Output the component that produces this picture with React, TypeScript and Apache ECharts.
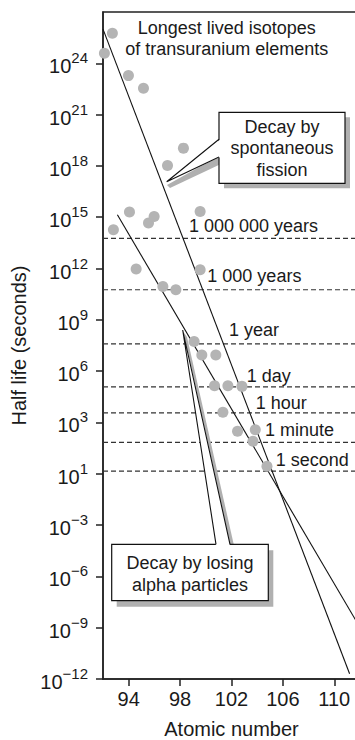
import React, { useEffect, useRef } from "react";
import * as echarts from "echarts";

// ---- data (atomic number, log10 of half-life in seconds) ----
const atomicNumber = [92.73, 92.11, 93.98, 95.15, 98.26, 97.02, 94.06, 92.81, 95.54, 95.98, 99.56, 94.58, 99.56, 96.66, 97.67, 99.09, 99.69, 100.78, 100.68, 101.72, 102.81, 101.33, 102.47, 103.85, 103.67, 104.76];
const logHalfLife = [25.76, 24.59, 23.28, 22.54, 19.04, 18.02, 15.3, 14.27, 14.66, 15.04, 15.34, 11.97, 11.93, 10.95, 10.76, 7.74, 6.95, 6.95, 5.15, 5.15, 5.11, 3.6, 2.48, 2.58, 1.9, 0.44];

const fissionLineZ = [92, 111.19];
const fissionLineLog = [26, -11.69];
const alphaLineZ = [93.12, 112];
const alphaLineLog = [15.14, -8.99];

const timescaleNames = ["1 000 000 years", "1 000 years", "1 year", "1 day", "1 hour", "1 minute", "1 second"];
const timescaleLog = [13.76, 10.76, 7.59, 5.08, 3.56, 1.84, 0.15];
const timescaleLabelZ = [98.65, 100.08, 101.77, 103.14, 103.85, 104.57, 105.4];
const timescaleLabelLog = [14.46, 11.54, 8.43, 5.74, 4.14, 2.54, 0.83];

const xTickValues = [94, 98, 102, 106, 110];
const yTickValues = [-12, -9, -6, -3, 0, 3, 6, 9, 12, 15, 18, 21, 24];
const yTickExponents = ["\u221212", "\u22129", "\u22126", "\u22123", "1", "3", "6", "9", "12", "15", "18", "21", "24"];

const FONT = '"Liberation Sans", Arial, Helvetica, sans-serif';
const INK = "#1a1a1a";
const SHADOW = "#b0b0b0";

function txt(text: string, x: number, y: number, size = 18) {
  return {
    type: "text",
    z: 10,
    style: {
      text, x, y,
      fill: INK,
      font: `${size}px ${FONT}`,
      textAlign: "center", align: "center",
      textVerticalAlign: "middle", verticalAlign: "middle",
    },
  };
}

export default function App() {
  const ref = useRef<HTMLDivElement>(null);
  useEffect(() => {
    if (!ref.current) return;
    const chart = echarts.init(ref.current, null, { renderer: "svg" });
    const axisLineStyle = { color: "#222", width: 1.5 };
    const points = atomicNumber.map((z, i) => [z, logHalfLife[i]]);
    const dashedSeries = timescaleLog.map((v) => ({
      type: "line",
      data: [[92, v], [112, v]],
      symbol: "none",
      silent: true,
      z: 1,
      lineStyle: { color: "#333", width: 1.2, type: [5, 3] },
    }));
    const option: any = {
      animation: false,
      grid: {
        left: 103, top: 12, right: -5, bottom: 61,
        containLabel: false, outerBoundsMode: "none",
        show: true, borderColor: "#222", borderWidth: 1.5, backgroundColor: "transparent",
      },
      xAxis: {
        type: "value", min: 92, max: 112,
        name: "Atomic number", nameLocation: "middle", nameGap: 40,
        nameTextStyle: { fontSize: 20, lineHeight: 20, color: INK, fontFamily: FONT },
        axisLine: { show: true, onZero: false, lineStyle: axisLineStyle },
        axisTick: { show: true, customValues: xTickValues, length: 7, lineStyle: axisLineStyle },
        axisLabel: { customValues: xTickValues, fontSize: 20, margin: 10, color: INK, fontFamily: FONT },
        splitLine: { show: false },
      },
      yAxis: {
        type: "value", min: -12, max: 27,
        name: "Half life (seconds)", nameLocation: "middle", nameGap: 74, nameRotate: 90,
        nameTextStyle: { fontSize: 20, color: INK, fontFamily: FONT },
        axisLine: { show: true, onZero: false, lineStyle: axisLineStyle },
        axisTick: { show: true, customValues: yTickValues, length: 7, lineStyle: axisLineStyle },
        axisLabel: {
          customValues: yTickValues, margin: 15, color: INK, fontFamily: FONT,
          formatter: (v: number) => {
            const i = yTickValues.indexOf(Math.round(v));
            return `{b|10}{s|${i >= 0 ? yTickExponents[i] : ""}}`;
          },
          rich: {
            b: { fontSize: 20, lineHeight: 26, verticalAlign: "bottom", color: INK, fontFamily: FONT },
            s: { fontSize: 15, lineHeight: 15, verticalAlign: "top", color: INK, fontFamily: FONT },
          },
        },
        splitLine: { show: false },
      },
      series: [
        ...dashedSeries,
        {
          type: "line", data: fissionLineZ.map((z, i) => [z, fissionLineLog[i]]),
          symbol: "none", silent: true, z: 2, lineStyle: { color: "#111", width: 1.1 },
        },
        {
          type: "line", data: alphaLineZ.map((z, i) => [z, alphaLineLog[i]]),
          symbol: "none", silent: true, z: 2, lineStyle: { color: "#111", width: 1.1 },
        },
        {
          type: "scatter", data: points, symbolSize: 11, z: 3, silent: true,
          itemStyle: { color: "#b4b4b4", opacity: 1 },
        },
        {
          type: "scatter", z: 4, silent: true, symbolSize: 1,
          itemStyle: { color: "rgba(0,0,0,0)", opacity: 1 },
          data: timescaleNames.map((n, i) => ({ value: [timescaleLabelZ[i], timescaleLabelLog[i]], name: n })),
          label: {
            show: true, position: "right", distance: 0, formatter: (p: any) => p.name,
            fontSize: 18, color: INK, opacity: 1, fontFamily: FONT, align: "left", verticalAlign: "middle",
          },
        },
      ],
      graphic: [
        txt("Longest lived isotopes", 226.7, 28.3),
        txt("of transuranium elements", 226.7, 49.3),
        // fission callout
        { type: "rect", z: 5, shape: { x: 224, y: 117.3, width: 126, height: 71 }, style: { fill: SHADOW } },
        { type: "polygon", z: 5, shape: { points: [[167, 185], [219, 156], [223, 163], [170, 188]] }, style: { fill: SHADOW } },
        { type: "rect", z: 6, shape: { x: 219, y: 112.3, width: 126, height: 71 }, style: { fill: "#fff", stroke: "#111", lineWidth: 1.2 } },
        { type: "polygon", z: 7, shape: { points: [[166.7, 181.7], [220.5, 139.3], [220.5, 157]] }, style: { fill: "#fff" } },
        { type: "polyline", z: 8, shape: { points: [[219, 139.3], [166.7, 181.7], [219, 157]] }, style: { stroke: "#111", lineWidth: 1.1, fill: null } },
        txt("Decay by", 282, 126.7),
        txt("spontaneous", 282, 148.3),
        txt("fission", 282, 170),
        // alpha callout
        { type: "rect", z: 5, shape: { x: 116.7, y: 550.3, width: 156.6, height: 56.4 }, style: { fill: SHADOW } },
        { type: "polygon", z: 5, shape: { points: [[183.5, 332], [230, 544.3], [235, 550], [187, 337]] }, style: { fill: SHADOW } },
        { type: "rect", z: 6, shape: { x: 111.7, y: 544.3, width: 156.6, height: 56.4 }, style: { fill: "#fff", stroke: "#111", lineWidth: 1.2 } },
        { type: "polygon", z: 7, shape: { points: [[182.7, 330], [216, 545.5], [230, 545.5]] }, style: { fill: "#fff" } },
        { type: "polyline", z: 8, shape: { points: [[216, 544.3], [182.7, 330], [230, 544.3]] }, style: { stroke: "#111", lineWidth: 1.1, fill: null } },
        txt("Decay by losing", 190, 562.7),
        txt("alpha particles", 190, 585),
      ],
    };
    chart.setOption(option);
    return () => chart.dispose();
  }, []);
  return <div ref={ref} style={{ position: "fixed", left: 0, top: 0, width: 355, height: 740, background: "#fff" }} />;
}
